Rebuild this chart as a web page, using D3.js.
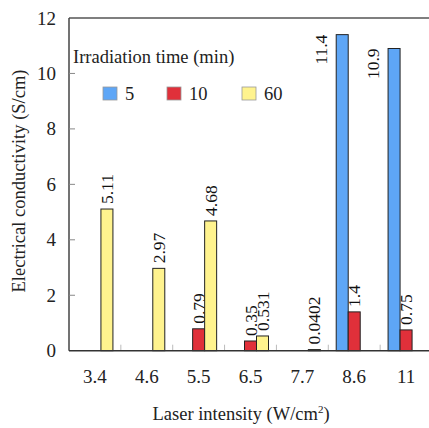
<!DOCTYPE html>
<html><head><meta charset="utf-8">
<script src="https://cdn.jsdelivr.net/npm/d3@7"></script>
<style>
html,body{margin:0;padding:0;background:#fff;}
</style></head>
<body><svg id="c" width="429" height="428"></svg>
<script>
const categories = ["3.4","4.6","5.5","6.5","7.7","8.6","11"];
const seriesNames = ["5","10","60"];
const values5  = [null,null,null,null,null,11.4,10.9];
const values10 = [null,null,0.79,0.35,null,1.4,0.75];
const values60 = [5.11,2.97,4.68,0.531,0.0402,null,null];
const valueLabels5  = [null,null,null,null,null,"11.4","10.9"];
const valueLabels10 = [null,null,"0.79","0.35",null,"1.4","0.75"];
const valueLabels60 = ["5.11","2.97","4.68","0.531","0.0402",null,null];
const yTicks = [0,2,4,6,8,10,12];
const colors = ["#5ea6f6","#e0303a","#fff38e"];

const FONT = '"Liberation Serif"';
const svg = d3.select("#c");
const pLeft = 69, pRight = 432, pTop = 18, pBottom = 350.7;
const x = d3.scaleBand().domain(categories).range([pLeft, pRight]);
const xs = d3.scaleBand().domain(seriesNames).range([-18, 18]);
const y = d3.scaleLinear().domain([0, 12]).range([pBottom, pTop]);

const allVals = [values5, values10, values60];
const allLabels = [valueLabels5, valueLabels10, valueLabels60];

// bars
seriesNames.forEach((s, si) => {
  const data = categories.map((c, i) => ({c, v: allVals[si][i], lab: allLabels[si][i]})).filter(d => d.v != null);
  svg.append("g").selectAll("rect").data(data).join("rect")
    .attr("x", d => x(d.c) + x.bandwidth()/2 + xs(s))
    .attr("width", xs.bandwidth())
    .attr("y", d => y(d.v))
    .attr("height", d => Math.max(0.5, y(0) - y(d.v)))
    .attr("fill", colors[si])
    .attr("stroke", "#222").attr("stroke-width", 1);
  svg.append("g").selectAll("text").data(data).join("text")
    .attr("transform", d => {
      const cx = x(d.c) + x.bandwidth()/2 + xs(s) + xs.bandwidth()/2;
      if (d.v > 10) return `translate(${cx - 21},${y(d.v)}) rotate(-90)`;
      return `translate(${cx},${y(d.v) - 5}) rotate(-90)`;
    })
    .attr("text-anchor", d => d.v > 10 ? "end" : "start")
    .attr("dominant-baseline", "central")
    .style("font-family", FONT).style("font-size", "17.5px").attr("fill", "#111")
    .text(d => d.lab);
});

// axes frame
svg.append("line").attr("x1", pLeft).attr("x2", 429).attr("y1", pTop).attr("y2", pTop).attr("stroke", "#555").attr("stroke-width", 1.3);
svg.append("line").attr("x1", pLeft).attr("x2", pLeft).attr("y1", pTop).attr("y2", pBottom).attr("stroke", "#444").attr("stroke-width", 1.5);

// y axis ticks
svg.append("g").selectAll("line").data(yTicks.slice(1, -1)).join("line")
  .attr("x1", pLeft).attr("x2", pLeft + 6).attr("y1", d => y(d)).attr("y2", d => y(d))
  .attr("stroke", "#888").attr("stroke-width", 1);
svg.append("g").selectAll("text").data(yTicks).join("text")
  .attr("x", 56).attr("y", d => y(d)).attr("text-anchor", "end").attr("dominant-baseline", "central")
  .style("font-family", FONT).style("font-size", "19px").attr("fill", "#222").text(d => d);

// x axis
svg.append("g").selectAll("line").data(categories.slice(1)).join("line")
  .attr("x1", d => x(d)).attr("x2", d => x(d)).attr("y1", pBottom).attr("y2", pBottom - 6)
  .attr("stroke", "#bbb").attr("stroke-width", 1);
svg.append("line").attr("x1", pLeft).attr("x2", 429).attr("y1", pBottom).attr("y2", pBottom).attr("stroke", "#333").attr("stroke-width", 1.5);
svg.append("g").selectAll("text").data(categories).join("text")
  .attr("x", d => x(d) + x.bandwidth()/2).attr("y", 383).attr("text-anchor", "middle")
  .style("font-family", FONT).style("font-size", "19px").attr("fill", "#222").text(d => d);

// titles
svg.append("text").attr("transform", "translate(19,181) rotate(-90)").attr("text-anchor", "middle")
  .attr("dominant-baseline", "central").style("font-family", FONT).style("font-size", "18.5px").attr("fill", "#222")
  .text("Electrical conductivity (S/cm)");
const xt = svg.append("text").attr("x", 241).attr("y", 420).attr("text-anchor", "middle")
  .style("font-family", FONT).style("font-size", "18.5px").attr("fill", "#222");
xt.append("tspan").text("Laser intensity (W/cm");
xt.append("tspan").style("font-size", "11px").attr("dy", -7).text("2");
xt.append("tspan").attr("dy", 7).text(")");

// legend
svg.append("text").attr("x", 73).attr("y", 63).style("font-family", FONT).style("font-size", "18.5px")
  .attr("fill", "#222").text("Irradiation time (min)");
const legX = [103, 167, 242];
seriesNames.forEach((s, i) => {
  svg.append("rect").attr("x", legX[i]).attr("y", 87).attr("width", 14).attr("height", 13)
    .attr("fill", colors[i]).attr("stroke", "#999").attr("stroke-width", 0.8);
  svg.append("text").attr("x", legX[i] + 22).attr("y", 99.5).style("font-family", FONT).style("font-size", "18.5px")
    .attr("fill", "#222").text(s);
});
</script></body></html>
